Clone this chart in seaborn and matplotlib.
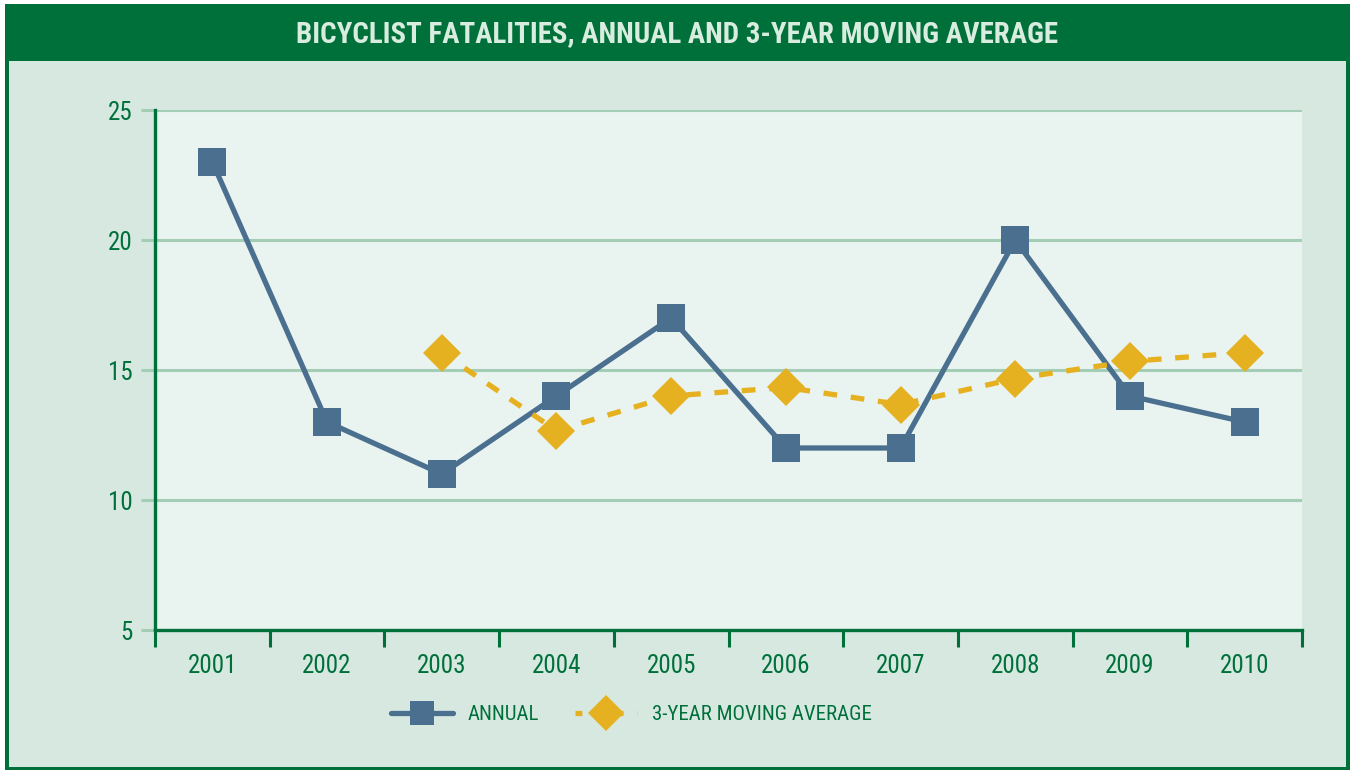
import matplotlib
matplotlib.use("Agg")
import matplotlib.pyplot as plt
from matplotlib import font_manager
from matplotlib.patches import Rectangle
from matplotlib.lines import Line2D
import seaborn as sns
import pandas as pd

# data
years = [2001, 2002, 2003, 2004, 2005, 2006, 2007, 2008, 2009, 2010]
annual = [23, 13, 11, 14, 17, 12, 12, 20, 14, 13]
ma_years = [2003, 2004, 2005, 2006, 2007, 2008, 2009, 2010]
moving_avg = [15.67, 12.67, 14.0, 14.33, 13.67, 14.67, 15.33, 15.67]
y_ticks = [5, 10, 15, 20, 25]
title = "BICYCLIST FATALITIES, ANNUAL AND 3-YEAR MOVING AVERAGE"
labels = ["ANNUAL", "3-YEAR MOVING AVERAGE"]

GREEN = "#00703a"
PANEL = "#d7e8e0"
PLOT_BG = "#e9f3ef"
GRID = "#a3cdb5"
BLUE = "#4a6f8f"
GOLD = "#e6b121"
TITLE_TXT = "#d8ecdf"

sns.set_theme(style="white")
available = {f.name for f in font_manager.fontManager.ttflist}
font = "Liberation Sans"
for cand in ["Liberation Sans Narrow", "Roboto Condensed", "Open Sans Condensed"]:
    if cand in available:
        font = cand
        break
plt.rcParams["font.family"] = [font, "DejaVu Sans"]

W, H = 1356, 771
fig = plt.figure(figsize=(W / 100, H / 100), dpi=100, facecolor="white")


def fr(x0, y0, x1, y1):
    # pixel box (top-left origin) -> figure fraction rectangle args
    return (x0 / W, 1 - y1 / H), (x1 - x0) / W, (y1 - y0) / H


xy, w, h = fr(5, 4, 1350, 770)
fig.add_artist(Rectangle(xy, w, h, transform=fig.transFigure, facecolor=GREEN, edgecolor="none", zorder=0))
xy, w, h = fr(9, 61, 1346, 767)
fig.add_artist(Rectangle(xy, w, h, transform=fig.transFigure, facecolor=PANEL, edgecolor="none", zorder=0))
fig.text(677 / W, 1 - 34 / H, title, ha="center", va="center", color=TITLE_TXT,
         fontsize=20.8, fontweight="bold")

ax = fig.add_axes([155 / W, 1 - 630 / H, (1302 - 155) / W, (630 - 110) / H])
ax.set_facecolor(PLOT_BG)

df_a = pd.DataFrame({"year": years, "value": annual})
df_m = pd.DataFrame({"year": ma_years, "value": moving_avg})

sns.lineplot(data=df_a, x="year", y="value", ax=ax, color=BLUE, linewidth=3.8,
             marker="s", markersize=19.5, markeredgewidth=0, zorder=3)
sns.lineplot(data=df_m, x="year", y="value", ax=ax, color=GOLD, linewidth=3.8,
             marker="D", markersize=19.5, markeredgewidth=0, zorder=4,
             dashes=False, linestyle=(0, (2.6, 2.6)))

ax.set_xlim(2000.5, 2010.5)
ax.set_ylim(5, 25)
ax.set_xlabel("")
ax.set_ylabel("")

ax.set_yticks(y_ticks)
ax.set_yticklabels([str(v) for v in y_ticks])
for v in y_ticks[1:]:
    ax.axhline(v, color=GRID, linewidth=2.2, zorder=1)
ax.tick_params(axis="y", which="major", direction="out", length=10, width=2.2,
               color=GRID, labelcolor=GREEN, labelsize=18, pad=6, left=True)
ax.yaxis.get_major_ticks()[0].tick1line.set_color(GREEN)

ax.set_xticks(years)
ax.set_xticklabels([str(y) for y in years])
ax.set_xticks([y - 0.5 for y in years] + [years[-1] + 0.5], minor=True)
ax.tick_params(axis="x", which="major", length=0, labelcolor=GREEN, labelsize=18, pad=17)
ax.tick_params(axis="x", which="minor", direction="out", length=12, width=2.2,
               color=GREEN, bottom=True)

for side in ["top", "right"]:
    ax.spines[side].set_visible(False)
for side in ["left", "bottom"]:
    ax.spines[side].set_color(GREEN)
    ax.spines[side].set_linewidth(2.4)
ax.spines["bottom"].set_zorder(5)

handles = [
    Line2D([], [], color=BLUE, linewidth=3.8, marker="s", markersize=17, markeredgewidth=0),
    Line2D([], [], color=GOLD, linewidth=3.8, marker="D", markersize=18, markeredgewidth=0,
           linestyle=(0, (1.3, 2.6))),
]
leg = fig.legend(handles, labels, loc="center", bbox_to_anchor=(631 / W, 1 - 715 / H),
                 ncol=2, frameon=False, fontsize=15, handlelength=3.0, numpoints=1,
                 columnspacing=1.7, handletextpad=0.7, borderpad=0, borderaxespad=0)
for t in leg.get_texts():
    t.set_color(GREEN)

fig.savefig("out.png", dpi=100, facecolor="white")
